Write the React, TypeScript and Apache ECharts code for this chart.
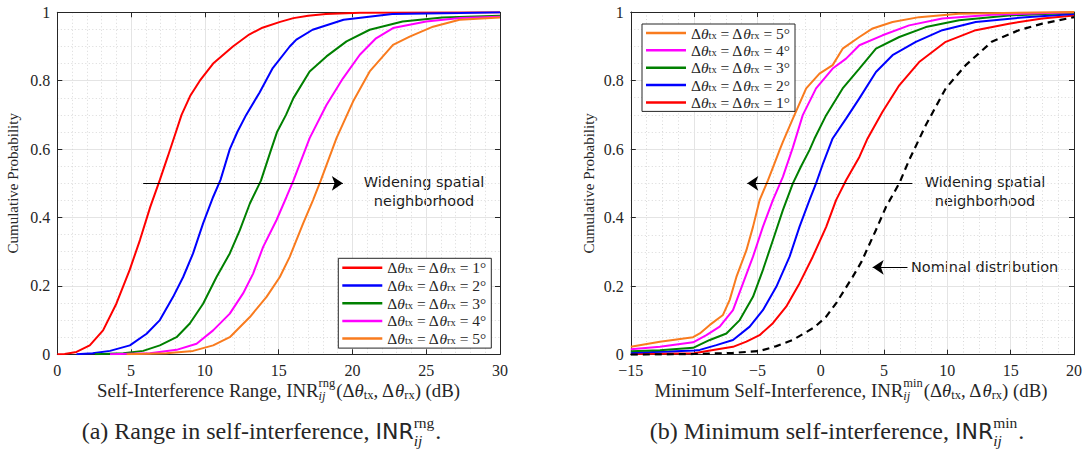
import React, { useEffect, useRef } from 'react';
import * as echarts from 'echarts';

// ---------- data ----------
const DEGREES = ['1°', '2°', '3°', '4°', '5°'];
const COLORS = ['#ff0000', '#0000ff', '#008000', '#ff00ff', '#f97b1e'];

// (a) Range in self-interference CDFs: [INR_rng (dB), probability]
const rng1 = [[0,0],[0.5,0.001],[1.3,0.007],[2.2,0.026],[3.1,0.07],[4.0,0.148],[4.9,0.246],[5.6,0.334],[6.3,0.431],[6.95,0.51],[7.5,0.58],[8.0,0.645],[8.42,0.7],[9.0,0.755],[9.66,0.8],[10.56,0.85],[11.9,0.9],[13.0,0.935],[13.9,0.955],[15.1,0.972],[16.0,0.983],[17.0,0.99],[18.2,0.995],[20.5,0.999],[30,1]];
const rng2 = [[1.3,0],[2.4,0.003],[3.57,0.01],[4.92,0.026],[6.05,0.06],[6.95,0.1],[7.85,0.168],[8.53,0.226],[9.2,0.295],[9.88,0.383],[10.56,0.46],[11.06,0.51],[11.69,0.6],[12.2,0.65],[12.8,0.7],[13.7,0.765],[14.6,0.837],[15.75,0.9],[16.2,0.92],[17.3,0.949],[19.4,0.978],[22.7,0.995],[27.3,0.998],[30,1]];
const rng3 = [[2.55,0],[4.47,0.003],[5.82,0.01],[6.95,0.026],[8.08,0.05],[8.98,0.09],[9.88,0.148],[10.79,0.226],[11.69,0.295],[12.37,0.363],[13.05,0.441],[13.8,0.508],[14.5,0.6],[14.9,0.651],[15.5,0.7],[16.0,0.749],[17.1,0.827],[18.24,0.871],[19.6,0.915],[21.17,0.949],[23.4,0.973],[26.1,0.985],[30,0.99]];
const rng4 = [[3.57,0],[6.28,0.003],[8.08,0.013],[9.44,0.031],[10.56,0.07],[11.69,0.119],[12.59,0.178],[13.27,0.236],[13.95,0.314],[14.85,0.392],[15.53,0.46],[16.0,0.508],[17.1,0.632],[18.24,0.729],[19.36,0.807],[20.5,0.876],[21.6,0.924],[22.75,0.954],[25.0,0.973],[27.3,0.983],[30,0.987]];
const rng5 = [[4.7,0],[7.4,0.003],[9.2,0.01],[10.56,0.026],[11.69,0.05],[13.05,0.109],[14.18,0.168],[15.08,0.226],[15.75,0.285],[16.66,0.383],[17.33,0.451],[17.85,0.508],[18.92,0.632],[20.04,0.739],[21.17,0.827],[22.75,0.905],[23.88,0.929],[25.46,0.958],[27.26,0.978],[30,0.985]];

// (b) Minimum self-interference CDFs: [INR_min (dB), probability]
const min1 = [[-15,0.002],[-10,0.004],[-8.5,0.014],[-6.93,0.023],[-5.87,0.038],[-4.83,0.057],[-3.78,0.092],[-2.73,0.14],[-1.68,0.208],[-0.63,0.286],[0.43,0.373],[1.21,0.451],[2.0,0.509],[3.05,0.577],[3.7,0.631],[4.88,0.709],[6.2,0.786],[7.77,0.854],[9.87,0.913],[12.24,0.947],[14.86,0.966],[17.5,0.981],[20,0.99]];
const min2 = [[-15,0.006],[-12,0.009],[-10,0.012],[-9.55,0.014],[-8.24,0.028],[-6.93,0.043],[-5.61,0.082],[-4.57,0.13],[-3.51,0.198],[-2.46,0.286],[-1.68,0.373],[-0.89,0.451],[-0.37,0.5],[0.2,0.56],[0.94,0.631],[2.0,0.689],[3.05,0.748],[4.36,0.825],[5.67,0.874],[7.51,0.913],[9.6,0.947],[12.24,0.971],[16.2,0.985],[20,0.994]];
const min3 = [[-15,0.01],[-12.7,0.013],[-10.08,0.02],[-8.76,0.043],[-7.45,0.062],[-6.4,0.101],[-5.35,0.169],[-4.57,0.247],[-3.78,0.334],[-2.99,0.422],[-2.2,0.5],[-1.55,0.55],[-0.89,0.597],[-0.5,0.63],[0.43,0.699],[1.73,0.777],[3.05,0.835],[4.36,0.893],[6.2,0.927],[8.3,0.956],[10.93,0.976],[14.86,0.99],[20,0.998]];
const min4 = [[-15,0.016],[-12.7,0.023],[-10.08,0.036],[-9.03,0.057],[-7.98,0.082],[-6.93,0.13],[-6.14,0.208],[-5.35,0.286],[-4.57,0.373],[-3.78,0.451],[-2.99,0.519],[-2.2,0.605],[-1.42,0.699],[-0.37,0.777],[0.94,0.835],[2.0,0.864],[3.05,0.903],[4.88,0.932],[6.98,0.961],[9.6,0.981],[13.5,0.992],[20,0.999]];
const min5 = [[-15,0.023],[-12.7,0.038],[-10.08,0.051],[-9.55,0.062],[-8.76,0.087],[-7.72,0.116],[-7.19,0.16],[-6.66,0.227],[-5.87,0.305],[-5.35,0.373],[-4.83,0.451],[-4.17,0.509],[-3.65,0.558],[-3.25,0.597],[-2.99,0.621],[-2.2,0.689],[-1.15,0.777],[-0.1,0.82],[0.94,0.845],[1.73,0.893],[3.05,0.927],[4.1,0.952],[5.67,0.971],[7.77,0.985],[10.9,0.995],[20,1]];
const nominal = [[-15,0],[-10,0.002],[-7,0.005],[-4.8,0.011],[-3.5,0.025],[-2.2,0.043],[-0.5,0.08],[0.43,0.111],[1.21,0.15],[2.52,0.227],[3.2,0.27],[4.36,0.364],[5.15,0.431],[6.2,0.5],[6.98,0.568],[8.3,0.67],[9.87,0.777],[11.45,0.845],[13.5,0.913],[15.65,0.947],[17.5,0.966],[20,0.985]];

const RNG_SERIES = [rng1, rng2, rng3, rng4, rng5];
const MIN_SERIES = [min1, min2, min3, min4, min5];

// annotation arrows in data coordinates: [from, to]
const ARROW_A = [[5.82, 0.5], [19.35, 0.5]];
const ARROW_B1 = [[7.24, 0.5], [-5.8, 0.5]];
const ARROW_B2 = [[6.85, 0.255], [4.1, 0.255]];

const X_A = { min: 0, max: 30, interval: 5 };
const X_B = { min: -15, max: 20, interval: 5 };
const Y_TICKS = { min: 0, max: 1, interval: 0.2 };

// ---------- styling ----------
const SERIF = 'Liberation Serif';
const SANS = 'DejaVu Sans';
const INK = '#262626';

const seriesName = (d: string) => `Δθ_tx = Δθ_rx = ${d}`;

type Piece =
  | { t: string; size: number; fam: string; it?: boolean; dy?: number }
  | { sup: string; sub: string; size: number; fam: string; supDy: number; subDy: number };

function composite(pieces: Piece[], cx: number, cy: number): any[] {
  const ctx = document.createElement('canvas').getContext('2d')!;
  const w = (t: string, size: number, fam: string, it?: boolean) => {
    ctx.font = `${it ? 'italic ' : ''}${size}px "${fam}"`;
    return ctx.measureText(t).width;
  };
  const widths = pieces.map((p: any) =>
    'sup' in p ? Math.max(w(p.sup, p.size, p.fam), w(p.sub, p.size, p.fam, true)) + 1 : w(p.t, p.size, p.fam, p.it)
  );
  const total = widths.reduce((a, b) => a + b, 0);
  let x = cx - total / 2;
  const els: any[] = [];
  const mk = (text: string, xx: number, yy: number, size: number, fam: string, it?: boolean) => ({
    type: 'text',
    x: xx,
    y: yy,
    silent: true,
    style: {
      text,
      fill: INK,
      fontSize: size,
      fontFamily: fam,
      fontStyle: it ? 'italic' : 'normal',
      align: 'left',
      verticalAlign: 'middle',
    },
  });
  pieces.forEach((p: any, i) => {
    if ('sup' in p) {
      els.push(mk(p.sup, x, cy + p.supDy, p.size, p.fam));
      els.push(mk(p.sub, x, cy + p.subDy, p.size, p.fam, true));
    } else {
      els.push(mk(p.t, x, cy + (p.dy || 0), p.size, p.fam, p.it));
    }
    x += widths[i];
  });
  return els;
}

function axisNamePieces(prefix: string, sup: string): Piece[] {
  const S = 18.8;
  const s = 12.5;
  return [
    { t: prefix + 'INR', size: S, fam: SERIF },
    { sup, sub: 'ij', size: s, fam: SERIF, supDy: -7, subDy: 6 },
    { t: '(Δ', size: S, fam: SERIF },
    { t: 'θ', size: S, fam: SERIF, it: true },
    { t: 'tx', size: s, fam: SERIF, dy: 5 },
    { t: ', Δ', size: S, fam: SERIF },
    { t: 'θ', size: S, fam: SERIF, it: true },
    { t: 'rx', size: s, fam: SERIF, dy: 5 },
    { t: ') (dB)', size: S, fam: SERIF },
  ];
}

function captionPieces(prefix: string, sup: string): Piece[] {
  return [
    { t: prefix, size: 24, fam: SERIF },
    { t: 'INR', size: 22, fam: SANS },
    { sup, sub: 'ij', size: 15.5, fam: SERIF, supDy: -8.5, subDy: 9.5 },
    { t: '.', size: 24, fam: SERIF },
  ];
}

const legendFormatter = (name: string) => {
  const d = name.slice(name.lastIndexOf('=') + 2);
  return `{a|Δ}{i|θ}{s|tx}{a| = Δ}{i|θ}{s|rx}{a| = ${d}}`;
};

const legendRich = {
  a: { fontSize: 15.5, fontFamily: SERIF, color: INK, lineHeight: 15 },
  i: { fontSize: 15.5, fontFamily: SERIF, fontStyle: 'italic', color: INK, lineHeight: 15 },
  s: { fontSize: 10.5, fontFamily: SERIF, color: INK, lineHeight: 10, verticalAlign: 'bottom' },
};

function mainXAxis(gridIndex: number, range: any, minorSplit: number) {
  return {
    type: 'value',
    gridIndex,
    position: 'bottom',
    ...range,
    axisLine: { show: true, onZero: false, lineStyle: { color: INK, width: 1 } },
    axisTick: { show: true, inside: true, length: 5, lineStyle: { color: INK } },
    axisLabel: {
      color: INK,
      fontSize: 16,
      fontFamily: SERIF,
      margin: 8,
      formatter: (v: number) => (v < 0 ? '\u2212' + Math.abs(v) : String(v)),
    },
    splitLine: { show: true, lineStyle: { color: '#e4e4e4', width: 1 } },
    minorTick: { show: false, splitNumber: minorSplit },
    minorSplitLine: { show: true, lineStyle: { color: '#cfcfcf', width: 0.8, type: [1, 2.5] } },
  };
}

function boxXAxis(gridIndex: number, range: any) {
  return {
    type: 'value',
    gridIndex,
    position: 'top',
    ...range,
    axisLine: { show: true, onZero: false, lineStyle: { color: INK, width: 1 } },
    axisTick: { show: true, inside: true, length: 5, lineStyle: { color: INK } },
    axisLabel: { show: false },
    splitLine: { show: false },
  };
}

function mainYAxis(gridIndex: number, nameGap: number) {
  return {
    type: 'value',
    gridIndex,
    position: 'left',
    ...Y_TICKS,
    name: 'Cumulative Probability',
    nameLocation: 'middle',
    nameGap,
    nameRotate: 90,
    nameTextStyle: { color: INK, fontSize: 15, fontFamily: SERIF },
    axisLine: { show: true, onZero: false, lineStyle: { color: INK, width: 1 } },
    axisTick: { show: true, inside: true, length: 5, lineStyle: { color: INK } },
    axisLabel: { color: INK, fontSize: 16, fontFamily: SERIF, margin: 7 },
    splitLine: { show: true, lineStyle: { color: '#e4e4e4', width: 1 } },
    minorTick: { show: false, splitNumber: 4 },
    minorSplitLine: { show: true, lineStyle: { color: '#cfcfcf', width: 0.8, type: [1, 2.5] } },
  };
}

function boxYAxis(gridIndex: number) {
  return {
    type: 'value',
    gridIndex,
    position: 'right',
    ...Y_TICKS,
    axisLine: { show: true, onZero: false, lineStyle: { color: INK, width: 1 } },
    axisTick: { show: true, inside: true, length: 5, lineStyle: { color: INK } },
    axisLabel: { show: false },
    splitLine: { show: false },
  };
}

const arrowMark = (arrows: number[][][]) => ({
  silent: true,
  symbol: ['none', 'arrow'],
  symbolSize: 11,
  lineStyle: { color: '#000', width: 1, type: 'solid' },
  itemStyle: { color: '#000' },
  label: { show: false },
  emphasis: { disabled: true },
  data: arrows.map((a) => [{ coord: a[0] }, { coord: a[1] }]),
});

export default function App() {
  const ref = useRef<HTMLDivElement>(null);

  useEffect(() => {
    if (!ref.current) return;
    const chart = echarts.init(ref.current, undefined, { renderer: 'svg' });

    const series: any[] = [];
    RNG_SERIES.forEach((data, i) => {
      series.push({
        type: 'line',
        name: seriesName(DEGREES[i]),
        xAxisIndex: 0,
        yAxisIndex: 0,
        data,
        showSymbol: false,
        symbol: 'none',
        color: COLORS[i],
        lineStyle: { width: 2, color: COLORS[i] },
        z: 3,
        ...(i === 0 ? { markLine: arrowMark([ARROW_A]) } : {}),
      });
    });
    MIN_SERIES.forEach((data, i) => {
      series.push({
        type: 'line',
        name: seriesName(DEGREES[i]),
        xAxisIndex: 1,
        yAxisIndex: 1,
        data,
        showSymbol: false,
        symbol: 'none',
        color: COLORS[i],
        lineStyle: { width: 2, color: COLORS[i] },
        z: 3,
        ...(i === 0 ? { markLine: arrowMark([ARROW_B1, ARROW_B2]) } : {}),
      });
    });
    series.push({
      type: 'line',
      name: 'Nominal distribution',
      xAxisIndex: 1,
      yAxisIndex: 1,
      data: nominal,
      showSymbol: false,
      symbol: 'none',
      color: '#000',
      lineStyle: { width: 2.2, color: '#000', type: [7, 5] },
      z: 3,
    });

    const anno = (text: string, x: number, y: number, align: string) => ({
      type: 'text',
      x,
      y,
      silent: true,
      style: {
        text,
        fill: '#1a1a1a',
        fontSize: 14.5,
        fontFamily: SANS,
        align,
        verticalAlign: 'middle',
      },
    });

    const graphic: any[] = [
      ...composite(axisNamePieces('Self-Interference Range, ', 'rng'), 278.5, 390),
      ...composite(axisNamePieces('Minimum Self-Interference, ', 'min'), 851, 390),
      ...composite(captionPieces('(a) Range in self-interference, ', 'rng'), 261.5, 431),
      ...composite(captionPieces('(b) Minimum self-interference, ', 'min'), 837, 431),
      anno('Widening spatial', 424, 182, 'center'),
      anno('neighborhood', 424, 200.5, 'center'),
      anno('Widening spatial', 985, 182, 'center'),
      anno('neighborhood', 985, 200.5, 'center'),
      anno('Nominal distribution', 911, 267, 'left'),
    ];

    chart.setOption({
      animation: false,
      backgroundColor: '#ffffff',
      grid: [
        { left: 57.3, top: 12.3, width: 442.7, height: 342, containLabel: false },
        { left: 630.8, top: 12, width: 444.2, height: 342.7, containLabel: false },
      ],
      xAxis: [mainXAxis(0, X_A, 5), mainXAxis(1, X_B, 4), boxXAxis(0, X_A), boxXAxis(1, X_B)],
      yAxis: [mainYAxis(0, 37), mainYAxis(1, 34), boxYAxis(0), boxYAxis(1)],
      legend: [
        {
          data: DEGREES.map(seriesName),
          orient: 'vertical',
          left: 338.3,
          top: 258.3,
          padding: [1.5, 5, 1.5, 4],
          itemGap: 1.7,
          itemWidth: 40,
          itemHeight: 2.5,
          icon: 'rect',
          selectedMode: false,
          backgroundColor: '#ffffff',
          borderColor: INK,
          borderWidth: 1,
          formatter: legendFormatter,
          textStyle: { rich: legendRich },
        },
        {
          data: DEGREES.slice().reverse().map(seriesName),
          orient: 'vertical',
          left: 642,
          top: 24,
          padding: [1, 5, 1, 4],
          itemGap: 1.35,
          itemWidth: 40,
          itemHeight: 2.5,
          icon: 'rect',
          selectedMode: false,
          backgroundColor: '#ffffff',
          borderColor: INK,
          borderWidth: 1,
          formatter: legendFormatter,
          textStyle: { rich: legendRich },
        },
      ],
      series,
      graphic,
    });

    return () => chart.dispose();
  }, []);

  return (
    <div
      ref={ref}
      style={{ position: 'fixed', left: 0, top: 0, width: 1085, height: 451, background: '#fff' }}
    />
  );
}
